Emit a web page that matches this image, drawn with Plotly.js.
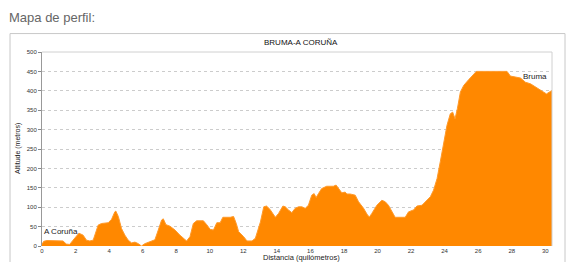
<!DOCTYPE html>
<html>
<head>
<meta charset="utf-8">
<script src="https://cdn.plot.ly/plotly-3.0.1.min.js"></script>
<style>
html,body{margin:0;padding:0;background:#fff;}
#chart{width:566px;height:262px;}
</style>
</head>
<body>
<div id="chart"></div>
<script>
const distanceKm = [0, 0.1, 0.3, 1.25, 1.45, 1.65, 1.85, 2.2, 2.45, 2.65, 2.85, 3.05, 3.35, 3.55, 3.95, 4.15, 4.34, 4.4, 4.55, 4.74, 4.94, 5.14, 5.34, 5.54, 5.74, 5.93, 6.13, 6.43, 6.73, 6.93, 7.13, 7.23, 7.39, 7.63, 7.93, 8.22, 8.52, 8.62, 8.82, 9.02, 9.22, 9.62, 9.82, 10.02, 10.22, 10.42, 10.62, 10.78, 11.22, 11.42, 11.58, 11.72, 12.02, 12.22, 12.52, 12.72, 13.02, 13.22, 13.38, 13.58, 13.91, 14.1, 14.36, 14.5, 14.69, 14.89, 15.09, 15.29, 15.49, 15.69, 15.88, 16.08, 16.22, 16.34, 16.48, 16.67, 16.97, 17.37, 17.53, 17.67, 17.87, 18.07, 18.17, 18.37, 18.67, 18.87, 19.17, 19.4, 19.52, 19.66, 19.96, 20.26, 20.46, 20.65, 20.85, 21.05, 21.65, 21.85, 22.15, 22.35, 22.65, 22.95, 23.15, 23.34, 23.55, 23.74, 23.94, 24.14, 24.34, 24.48, 24.62, 24.76, 24.94, 25.14, 25.44, 25.73, 25.89, 27.72, 27.92, 28.52, 28.82, 29.12, 29.42, 29.81, 30.07, 30.4];
const altitudeM = [4, 12, 14, 13, 5, 4, 15, 33, 28, 15, 13, 15, 54, 58, 60, 69, 88, 90, 76, 45, 28, 15, 8, 10, 6, 0, 6, 10, 16, 41, 67, 70, 55, 51, 41, 28, 15, 13, 24, 58, 65, 65, 55, 43, 41, 60, 60, 74, 74, 76, 58, 37, 24, 13, 13, 20, 62, 101, 103, 95, 74, 84, 103, 101, 93, 86, 97, 101, 101, 97, 105, 131, 135, 125, 135, 148, 154, 154, 157, 148, 137, 139, 134, 134, 131, 114, 97, 80, 75, 84, 105, 118, 114, 105, 88, 74, 74, 88, 93, 103, 105, 118, 127, 144, 174, 217, 260, 311, 341, 345, 328, 354, 397, 414, 429, 444, 450, 450, 438, 433, 422, 418, 410, 398, 392, 401];
const xTicks = [0, 2, 4, 6, 8, 10, 12, 14, 16, 18, 20, 22, 24, 26, 28, 30];
const yTicks = [0, 50, 100, 150, 200, 250, 300, 350, 400, 450, 500];
const pageTitle = "Mapa de perfil:";
const chartTitle = "BRUMA-A CORUÑA";
const xTitle = "Distancia (quilómetros)";
const yTitle = "Altitude (metros)";
const startLabel = "A Coruña";
const endLabel = "Bruma";

const FONT = "Liberation Sans, Arial, sans-serif";

const trace = {
  x: distanceKm,
  y: altitudeM,
  type: "scatter",
  mode: "lines",
  fill: "tozeroy",
  fillcolor: "#FF8800",
  line: {color: "#FF9A2A", width: 1},
  hoverinfo: "skip"
};

const layout = {
  width: 566,
  height: 262,
  margin: {l: 42, r: 14, t: 52, b: 16, pad: 0},
  paper_bgcolor: "#ffffff",
  plot_bgcolor: "#ffffff",
  showlegend: false,
  font: {family: FONT, color: "#333", size: 6},
  xaxis: {
    range: [0, 30.4],
    tickvals: xTicks,
    ticktext: xTicks.map(String),
    ticks: "",
    ticklen: 0,
    tickfont: {family: FONT, size: 6, color: "#333"},
    showgrid: false,
    zeroline: false,
    showline: false
  },
  yaxis: {
    range: [0, 500],
    tickvals: yTicks,
    ticktext: yTicks.map(String),
    ticks: "outside",
    ticklen: 3,
    tickcolor: "#888",
    tickfont: {family: FONT, size: 6, color: "#333"},
    showgrid: true,
    gridcolor: "#cccccc",
    griddash: "dot",
    gridwidth: 1,
    zeroline: false,
    showline: true,
    linecolor: "#999",
    linewidth: 1
  },
  shapes: [
    {type: "rect", xref: "paper", yref: "paper", x0: -0.0627, x1: 1.0255, y0: -0.2, y1: 1.095,
     line: {color: "#c8c8c8", width: 1}, fillcolor: "rgba(0,0,0,0)", layer: "below"},
    {type: "line", xref: "paper", yref: "paper", x0: 0, x1: 1, y0: 1, y1: 1,
     line: {color: "#d0d0d0", width: 1}},
    {type: "line", xref: "paper", yref: "paper", x0: 1, x1: 1, y0: 0, y1: 1,
     line: {color: "#d0d0d0", width: 1}}
  ],
  annotations: [
    {text: pageTitle, xref: "paper", yref: "paper", x: -0.069, y: 1.13, xanchor: "left", yanchor: "bottom",
     showarrow: false, font: {family: FONT, size: 13, color: "#666"}},
    {text: chartTitle, xref: "paper", yref: "paper", x: 0.508, y: 1.015, xanchor: "center", yanchor: "bottom",
     showarrow: false, font: {family: FONT, size: 8, color: "#111"}},
    {text: xTitle, xref: "paper", yref: "paper", x: 0.508, y: -0.06, xanchor: "center", yanchor: "middle",
     showarrow: false, font: {family: FONT, size: 7.5, color: "#222"}},
    {text: yTitle, xref: "paper", yref: "paper", x: -0.047, y: 0.5, xanchor: "center", yanchor: "middle",
     textangle: -90, showarrow: false, font: {family: FONT, size: 7, color: "#222"}},
    {text: startLabel, xref: "x", yref: "y", x: 0, y: 37, xanchor: "left", yanchor: "middle",
     showarrow: false, font: {family: FONT, size: 8, color: "#222"}},
    {text: endLabel, xref: "x", yref: "y", x: 30.2, y: 437, xanchor: "right", yanchor: "middle",
     showarrow: false, font: {family: FONT, size: 8, color: "#222"}}
  ]
};

Plotly.newPlot("chart", [trace], layout, {staticPlot: true, displayModeBar: false});
</script>
</body>
</html>
